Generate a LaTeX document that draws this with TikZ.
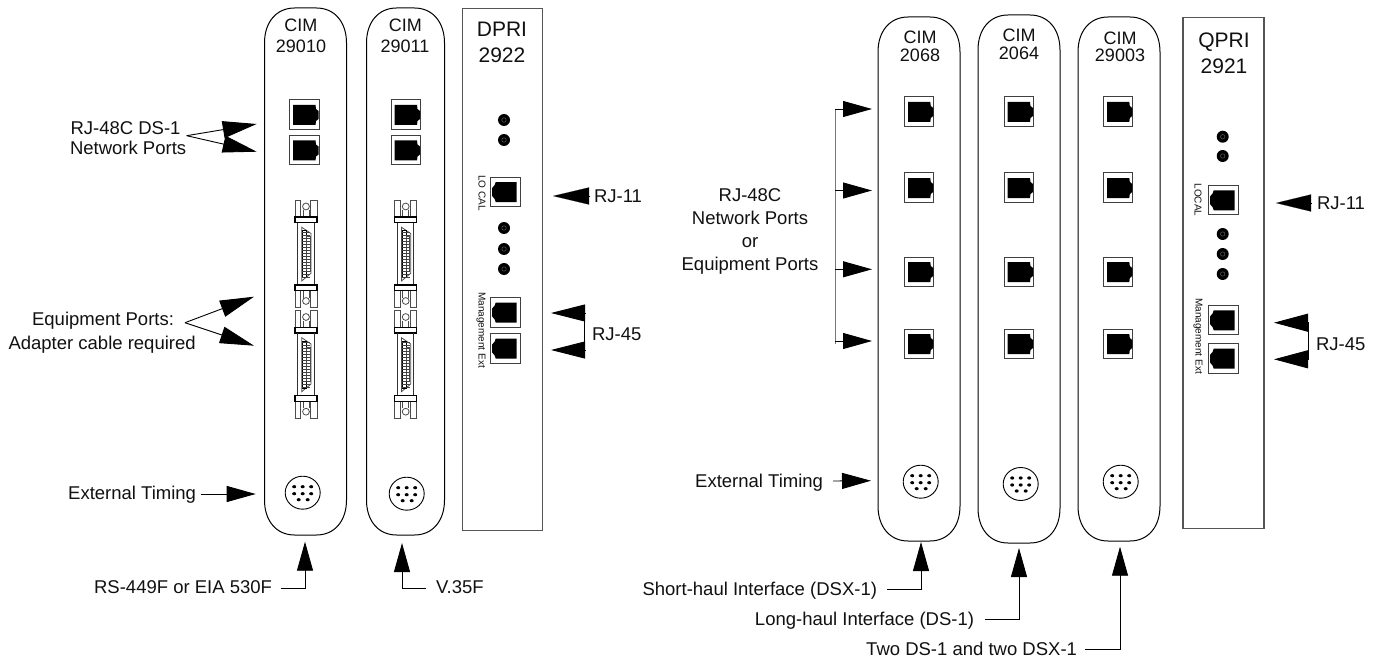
\documentclass[tikz,border=0pt]{standalone}
\usepackage{fontspec}
\setmainfont{Liberation Sans}
\usetikzlibrary{arrows.meta,shapes.geometric}
\definecolor{ink}{HTML}{111111}
\definecolor{panelgray}{HTML}{555555}
\definecolor{busgray}{HTML}{777777}
\tikzset{
  cardline/.style={draw=black,line width=1pt},
  panel/.style={draw=panelgray,line width=1.2pt,fill=none,inner sep=0pt,outer sep=0pt},
  lbl/.style={inner sep=0pt,outer sep=0pt,text=ink,font=\fontsize{18.5}{20}\selectfont,text height=13.2pt,text depth=0pt},
  cardtitle/.style={lbl,font=\fontsize{18}{20}\selectfont,text height=12.9pt},
  boardtitle/.style={lbl,font=\fontsize{21}{23}\selectfont,text height=15pt},
  tinytext/.style={inner sep=0pt,outer sep=0pt,text=ink,rotate=-90,font=\fontsize{10}{11}\selectfont},
  jackbox/.style={draw=black!75,line width=1pt,minimum width=29.5pt,minimum height=29.5pt,inner sep=0pt,outer sep=0pt},
  thinline/.style={draw=black,line width=.9pt},
  head/.style={thinline,-{Triangle[length=29pt,width=16pt]}},
  headlong/.style={thinline,-{Triangle[length=34pt,width=17pt]}},
  led/.style={circle,fill=black,minimum size=12pt,inner sep=0pt,outer sep=0pt},
  latchline/.style={draw=black!70,line width=.8pt},
}
\newcommand{\cardpath}[4]{%
  \draw[cardline] (#1,#3+35) .. controls (#1,#3+14) and (#1+12,#3) .. (#1+30,#3)
    -- (#2-30,#3) .. controls (#2-12,#3) and (#2,#3+14) .. (#2,#3+35)
    -- (#2,#4-35) .. controls (#2,#4-14) and (#2-12,#4) .. (#2-30,#4)
    -- (#1+30,#4) .. controls (#1+12,#4) and (#1,#4-14) .. (#1,#4-35) -- cycle;}
\newcommand{\jackR}[3]{%
  \node[jackbox] (#1) at (#2+14.75,#3+14.75) {};
  \fill[black] (#2+3.7,#3+5) -- (#2+26,#3+5) -- (#2+26.5,#3+9) -- (#2+29,#3+11) -- (#2+29,#3+19)
    -- (#2+26.5,#3+21) -- (#2+26,#3+25) -- (#2+3.7,#3+25) -- cycle;}
\newcommand{\jackL}[3]{%
  \node[jackbox] (#1) at (#2+14.75,#3+14.75) {};
  \fill[black] (#2+26,#3+5) -- (#2+5,#3+5) -- (#2+4,#3+8) -- (#2+1.5,#3+11) -- (#2+1.5,#3+19)
    -- (#2+4,#3+22) -- (#2+5,#3+25) -- (#2+26,#3+25) -- cycle;}
\newcommand{\ledat}[3]{%
  \node[led] (#1) at (#2,#3) {};
  \draw[black!65,line width=.5pt] (#2,#3) circle[radius=2.2];}
\newcommand{\timing}[3]{%
  \node[draw=black,line width=.9pt,ellipse,minimum width=35pt,minimum height=33pt,inner sep=0pt] (#1) at (#2,#3) {};
  \foreach \dx/\dy in {-8.5/-6,0/-6,8.5/-6,-8.5/1,0/1,8.5/1,-4/7,5/7}
    {\fill[black] (#2+\dx,#3+\dy) ellipse[x radius=2,y radius=1.6];}}
\newcommand{\latch}[3]{%
  \begin{scope}[shift={(#1,#2)},yscale=#3]
    \draw[latchline] (-11,5.5) rectangle (-5.5,22.5);
    \draw[latchline] (4.5,5.5) rectangle (11,22.5);
    \draw[latchline] (-3,5.5) -- (-3,12.5);
    \draw[latchline] (3,5.5) -- (3,12.5);
    \draw[draw=black,line width=1.4pt] (-11,0) rectangle (11,5.5);
    \draw[latchline,fill=white] (0,16) circle[radius=3.4];
  \end{scope}}
\newcommand{\dbody}[3]{%
  \draw[draw=black!80,line width=1pt] (#1-8.3,#2) -- (#1-8.3,#3) (#1+8,#2) -- (#1+8,#3);
  \draw[latchline] (#1-4.3,#2+4.7) -- (#1+5,#2+11) -- (#1+5,#3-11.7) -- (#1-4.3,#3-4) -- cycle;
  \draw[draw=black,line width=.9pt] (#1-3.6,#2+8) rectangle (#1+.4,#3-7.5);
  \draw[latchline] (#1+.4,#2+14) rectangle (#1+4,#3-14);
  \foreach \k in {0,...,15}{%
    \draw[black!75,line width=.55pt] (#1-3.6,#2+9.5+3*\k) -- (#1+4,#2+9.5+3*\k);}}
\newcommand{\dsubpair}[1]{%
  \latch{#1}{222.5}{-1}\dbody{#1}{222.5}{285}\latch{#1}{285}{1}%
  \latch{#1}{333}{-1}\dbody{#1}{333}{395.7}\latch{#1}{395.7}{1}}
\begin{document}
\begin{tikzpicture}[x=1pt,y=-1pt]
\useasboundingbox (0,0) rectangle (1379,658);
\fill[white] (0,0) rectangle (1379,658);
% ---------------- left group
\cardpath{264.5}{346.5}{8}{535}
\cardpath{366.5}{444.5}{8}{535}
\node[panel,minimum width=80.5pt,minimum height=522.5pt] (dpri) at (502.4,269.5) {};
\node[cardtitle] (t1a) at (300.8,25) {CIM};
\node[cardtitle] (t1b) at (301,46) {29010};
\node[cardtitle] (t2a) at (405.3,25) {CIM};
\node[cardtitle] (t2b) at (405,46) {29011};
\node[boardtitle] (t3a) at (502,29) {DPRI};
\node[boardtitle] (t3b) at (502,55) {2922};
\jackR{ja1}{289.5}{100}
\jackR{ja2}{289.5}{135.5}
\jackR{jb1}{391}{100}
\jackR{jb2}{391}{135.5}
\dsubpair{306}
\dsubpair{405.7}
\timing{tmA}{302.7}{492.7}
\timing{tmB}{406.7}{493.7}
\ledat{l1}{504}{120}
\ledat{l2}{504}{140}
\ledat{l3}{504}{228}
\ledat{l4}{504}{249}
\ledat{l5}{504}{269}
\jackL{jd1}{490.7}{177}
\jackL{jd2}{490.7}{297.5}
\jackL{jd3}{490.7}{333.5}
\node[tinytext] (loc1) at (482,193) {LO CAL};
\node[tinytext] (mg1) at (481,330) {Management Ext};
% left labels
\node[lbl,anchor=west] (n1) at (70.5,128) {RJ-48C DS-1};
\node[lbl,anchor=west] (n2) at (70,148) {Network Ports};
\coordinate (o1) at (186.7,135.7);
\coordinate (o1t) at (256.7,124);
\coordinate (o1b) at (256.7,151.7);
\draw[headlong] (o1) -- (o1t);
\draw[headlong] (o1) -- (o1b);
\node[lbl,anchor=east] (e1) at (174,319) {Equipment Ports:};
\node[lbl,anchor=east] (e2) at (195.7,342.7) {Adapter cable required};
\coordinate (o2) at (185,322.7);
\coordinate (o2t) at (254,296.7);
\coordinate (o2b) at (254,345.7);
\draw[headlong] (o2) -- (o2t);
\draw[headlong] (o2) -- (o2b);
\node[lbl,anchor=east] (et1) at (196,493) {External Timing};
\coordinate (et1t) at (255.7,494);
\draw[head] ([xshift=4.7pt,yshift=-1pt]et1.east) -- (et1t);
\node[lbl,anchor=east] (rs) at (272,586.7) {RS-449F or EIA 530F};
\coordinate (rst) at (305,541.7);
\draw[head] ([xshift=8.7pt,yshift=-1.3pt]rs.east) -| (rst);
\node[lbl,anchor=west] (v35) at (436,587) {V.35F};
\coordinate (v35t) at (402,543);
\draw[head] ([xshift=-10pt,yshift=-1pt]v35.west) -| (v35t);
\coordinate (r11a) at (589,196);
\coordinate (r11t) at (553,196);
\draw[-{Triangle[length=36pt,width=17pt]},draw=black,line width=.1pt] (r11a) -- (r11t);
\node[lbl,anchor=west] (r11) at (594,196) {RJ-11};
\coordinate (r45a) at (584.5,313);
\coordinate (r45b) at (584.5,350);
\coordinate (r45at) at (551,313);
\coordinate (r45bt) at (551,350);
\draw[thinline] (r45a) -- (r45b);
\draw[-{Triangle[length=34pt,width=17pt]},thinline] (r45a) -- (r45at);
\draw[-{Triangle[length=34pt,width=17pt]},thinline] (r45b) -- (r45bt);
\node[lbl,anchor=west] (r45) at (592,334) {RJ-45};
% ---------------- right group
\cardpath{878}{960}{17}{541}
\cardpath{978}{1060}{15}{543}
\cardpath{1078}{1160}{17}{541}
\node[panel,minimum width=81pt,minimum height=511pt] (qpri) at (1223.5,273) {};
\node[cardtitle] (t4a) at (920,37) {CIM};
\node[cardtitle] (t4b) at (920,55) {2068};
\node[cardtitle] (t5a) at (1019,35) {CIM};
\node[cardtitle] (t5b) at (1019,53) {2064};
\node[cardtitle] (t6a) at (1120,38) {CIM};
\node[cardtitle] (t6b) at (1120,55) {29003};
\node[boardtitle] (t7a) at (1224,40) {QPRI};
\node[boardtitle] (t7b) at (1224,66) {2921};
\foreach \i/\yy in {1/97,2/173,3/257,4/329}{%
  \jackR{jc\i}{904.3}{\yy}
  \jackR{je\i}{1004}{\yy}
  \jackR{jf\i}{1103.3}{\yy}
}
\timing{tmC}{920.7}{481.7}
\timing{tmD}{1020.7}{484}
\timing{tmE}{1120.7}{481.7}
\ledat{q1}{1222.7}{136.7}
\ledat{q2}{1222.7}{156}
\ledat{q3}{1222.7}{234}
\ledat{q4}{1222.7}{254}
\ledat{q5}{1222.7}{274}
\jackL{jq1}{1208.7}{185.3}
\jackL{jq2}{1208.7}{305.3}
\jackL{jq3}{1208.7}{343.7}
\node[tinytext] (loc2) at (1198,200) {LOCAL};
\node[tinytext] (mg2) at (1198,336) {Management Ext};
\node[lbl] (m1) at (750,195) {RJ-48C};
\node[lbl] (m2) at (750,218) {Network Ports};
\node[lbl] (m3) at (750,241) {or};
\node[lbl] (m4) at (750,264) {Equipment Ports};
\coordinate (busT) at (835,109);
\coordinate (busB) at (835,344);
\draw[draw=busgray,line width=1pt] (busT) -- (busB);
\foreach \i/\yy in {1/109,2/190.5,3/269.3,4/341}{%
  \coordinate (bs\i) at (835,\yy);
  \coordinate (bt\i) at (872,\yy);
  \draw[head] (bs\i) -- (bt\i);
}
\node[lbl,anchor=east] (et2) at (823,481) {External Timing};
\coordinate (et2t) at (871,480.7);
\draw[head] ([xshift=10pt]et2.east) -- (et2t);
\node[lbl,anchor=east] (sh) at (877,589) {Short-haul Interface (DSX-1)};
\coordinate (sht) at (921,542);
\draw[head] ([xshift=10pt]sh.east) -| (sht);
\node[lbl,anchor=east] (lh) at (974,619) {Long-haul Interface (DS-1)};
\coordinate (lht) at (1019,548);
\draw[head] ([xshift=11pt]lh.east) -| (lht);
\node[lbl,anchor=east] (tw) at (1077,649) {Two DS-1 and two DSX-1};
\coordinate (twt) at (1120,546.7);
\draw[head] ([xshift=8pt]tw.east) -| (twt);
\coordinate (q11a) at (1311,203);
\coordinate (q11t) at (1276,203);
\draw[-{Triangle[length=35pt,width=17pt]},draw=black,line width=.1pt] (q11a) -- (q11t);
\node[lbl,anchor=west] (q11) at (1317,203) {RJ-11};
\coordinate (q45a) at (1308,322.7);
\coordinate (q45b) at (1308,359.3);
\coordinate (q45at) at (1274,322.7);
\coordinate (q45bt) at (1274,359.3);
\draw[thinline] (q45a) -- (q45b);
\draw[-{Triangle[length=34pt,width=18pt]},thinline] (q45a) -- (q45at);
\draw[-{Triangle[length=34pt,width=18pt]},thinline] (q45b) -- (q45bt);
\node[lbl,anchor=west] (q45) at (1316,344) {RJ-45};
\end{tikzpicture}
\end{document}
